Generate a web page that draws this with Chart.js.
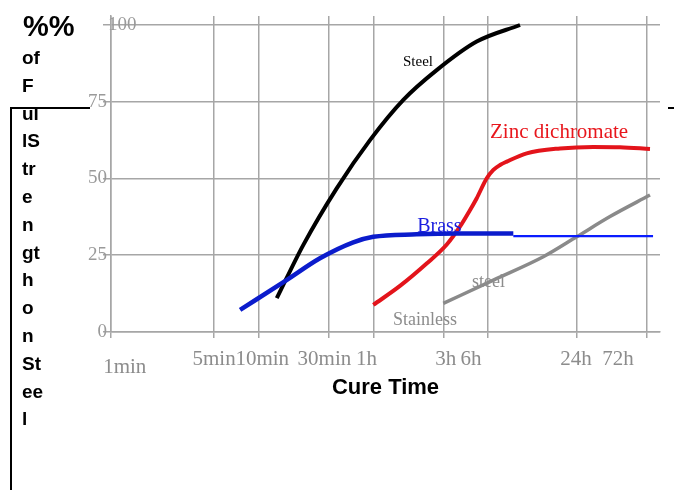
<!DOCTYPE html>
<html>
<head>
<meta charset="utf-8">
<script src="https://cdn.jsdelivr.net/npm/chart.js@4"></script>
<style>
  html, body { margin: 0; padding: 0; background: #fff; }
</style>
</head>
<body>
<canvas id="cureChart" width="674" height="490"></canvas>
<script>
// cure time in minutes (log axis), strength in % of full strength on steel
const gridMinutes = [1, 5, 10, 30, 60, 180, 360, 1440, 4320];
const xLabels = ["1min", "5min", "10min", "30min", "1h", "3h", "6h", "24h", "72h"];
const labelMinutes = [1.24, 5, 10.6, 28, 54, 186, 276, 1420, 2740];
const yTicks = [0, 25, 50, 75, 100];

const steelMin = [13.3, 20.1, 33.9, 57, 95.9, 161.5, 301.5, 593];
const steelPct = [11.0, 28.3, 46.8, 62.5, 75.6, 85.3, 94.6, 100.0];

const brassMin = [7.5, 15.5, 26.1, 43.9, 60, 118, 221, 534];
const brassPct = [7.2, 16.9, 24.0, 29.2, 31.0, 31.8, 32.1, 32.1];
const brassLateMin = [534, 4730];
const brassLatePct = [31.2, 31.2];

const zincMin = [60, 91, 138, 189, 232, 270, 301, 352, 391, 434, 482, 658, 1107, 1862, 2824, 4510];
const zincPct = [8.8, 15.0, 22.3, 28.5, 34.3, 39.5, 43.5, 50.0, 52.8, 54.4, 55.5, 58.2, 59.8, 60.3, 60.2, 59.6];

const stainlessMin = [179, 391, 853, 1436, 2416, 4510];
const stainlessPct = [9.3, 16.9, 24.5, 31.0, 37.6, 44.6];

const noteText = ["Steel", "Zinc dichromate", "Brass", "steel", "Stainless"];
const noteMin = [95.4, 371, 119, 280, 81.6];
const notePct = [86.6, 63.3, 32.7, 14.8, 2.3];

const yTitleLines = ["%%", "of", "F", "ul", "lS", "tr", "e", "n", "gt", "h", "o", "n", "St", "ee", "l"];

const serif = '"Liberation Serif", "Times New Roman", serif';
const sans = '"Liberation Sans", Arial, sans-serif';
const gridColor = "#a6a6a6";
const xMax = 5272;
const yMax = 102.93;

const pts = (xs, ys) => xs.map((x, i) => ({ x: x, y: ys[i] }));

const noteStyle = [
  { color: "#000000", size: 15 },
  { color: "#e8161c", size: 21 },
  { color: "#1a1ee0", size: 20 },
  { color: "#8c8c8c", size: 18 },
  { color: "#8c8c8c", size: 18 },
];

const extras = {
  id: "extras",
  beforeDraw(chart) {
    const ctx = chart.ctx;
    ctx.save();
    ctx.strokeStyle = "#000";
    ctx.lineWidth = 2;
    ctx.beginPath();
    ctx.moveTo(11, 490);
    ctx.lineTo(11, 108);
    ctx.lineTo(90, 108);
    ctx.moveTo(668, 108);
    ctx.lineTo(674, 108);
    ctx.stroke();
    ctx.restore();
  },
  afterDatasetsDraw(chart) {
    const ctx = chart.ctx;
    const xs = chart.scales.x;
    const ys = chart.scales.y;
    ctx.save();
    ctx.textAlign = "left";
    ctx.textBaseline = "alphabetic";
    noteText.forEach((t, i) => {
      ctx.fillStyle = noteStyle[i].color;
      ctx.font = noteStyle[i].size + "px " + serif;
      ctx.fillText(t, xs.getPixelForValue(noteMin[i]), ys.getPixelForValue(notePct[i]));
    });
    ctx.restore();
  },
  afterDraw(chart) {
    const ctx = chart.ctx;
    ctx.save();
    ctx.fillStyle = "#000";
    ctx.textAlign = "left";
    ctx.textBaseline = "alphabetic";
    yTitleLines.forEach((t, i) => {
      if (i === 0) {
        ctx.font = "bold 29px " + sans;
        ctx.fillText(t, 23, 36);
      } else {
        ctx.font = "bold 19px " + sans;
        ctx.fillText(t, 22, 64 + (i - 1) * 27.8);
      }
    });
    ctx.restore();
  },
};

const lineDefaults = {
  pointRadius: 0,
  fill: false,
  cubicInterpolationMode: "monotone",
  borderCapStyle: "butt",
  xAxisID: "x",
  yAxisID: "y",
};

new Chart(document.getElementById("cureChart"), {
  type: "line",
  data: {
    datasets: [
      { ...lineDefaults, label: "Brass", data: pts(brassMin, brassPct), borderColor: "#0b1ccc", borderWidth: 4.5 },
      { ...lineDefaults, label: "Brass late", data: pts(brassLateMin, brassLatePct), borderColor: "#0a1cff", borderWidth: 2.2 },
      { ...lineDefaults, label: "Steel", data: pts(steelMin, steelPct), borderColor: "#000000", borderWidth: 4 },
      { ...lineDefaults, label: "Zinc dichromate", data: pts(zincMin, zincPct), borderColor: "#e3141b", borderWidth: 4 },
      { ...lineDefaults, label: "Stainless steel", data: pts(stainlessMin, stainlessPct), borderColor: "#8a8a8a", borderWidth: 3.5 },
    ],
  },
  options: {
    responsive: false,
    animation: false,
    devicePixelRatio: 1,
    layout: { padding: { left: 0, top: 16, right: 14, bottom: 89 } },
    plugins: { legend: { display: false }, tooltip: { enabled: false } },
    scales: {
      x: {
        type: "logarithmic",
        position: "bottom",
        weight: 0,
        bounds: "data",
        min: 1,
        max: xMax,
        afterBuildTicks: (s) => { s.ticks = gridMinutes.map((v) => ({ value: v })); },
        afterFit: (s) => { s.height = 6; },
        grid: { color: gridColor, lineWidth: 1.5, tickLength: 6 },
        border: { display: true, color: gridColor, width: 1.5 },
        ticks: { display: false },
      },
      xl: {
        type: "logarithmic",
        position: "bottom",
        weight: 1,
        bounds: "data",
        min: 1,
        max: xMax,
        afterBuildTicks: (s) => { s.ticks = labelMinutes.map((v) => ({ value: v })); },
        afterFit: (s) => { s.height = 63; },
        grid: { display: false },
        border: { display: false },
        ticks: {
          autoSkip: false,
          maxRotation: 0,
          padding: 1,
          color: "#8c8c8c",
          font: (c) => ({ family: serif, size: 21, lineHeight: c.index === 0 ? 1.96 : 1.2 }),
          callback: (v, i) => xLabels[i],
        },
        title: {
          display: true,
          text: "Cure Time",
          color: "#000",
          padding: 0,
          font: { family: sans, size: 22, weight: "bold" },
        },
      },
      y: {
        position: "left",
        weight: 1,
        bounds: "data",
        min: 0,
        max: yMax,
        afterBuildTicks: (s) => { s.ticks = yTicks.map((v) => ({ value: v })); },
        afterFit: (s) => { s.width = 111; },
        grid: { color: gridColor, lineWidth: 1.5, tickLength: 8 },
        border: { display: true, color: gridColor, width: 1.5 },
        ticks: {
          padding: -4,
          color: "#9a9a9a",
          font: { family: serif, size: 19 },
          callback: (v) => (v === yTicks[yTicks.length - 1] ? "" : String(v)),
        },
      },
      yTop: {
        position: "left",
        weight: 0,
        bounds: "data",
        min: 0,
        max: yMax,
        afterBuildTicks: (s) => { s.ticks = [{ value: yTicks[yTicks.length - 1] }]; },
        afterFit: (s) => { s.width = 0; },
        grid: { display: false },
        border: { display: false },
        ticks: {
          mirror: true,
          padding: -3,
          color: "#9a9a9a",
          font: { family: serif, size: 19 },
          callback: (v) => String(v),
        },
      },
    },
  },
  plugins: [extras],
});
</script>
</body>
</html>
